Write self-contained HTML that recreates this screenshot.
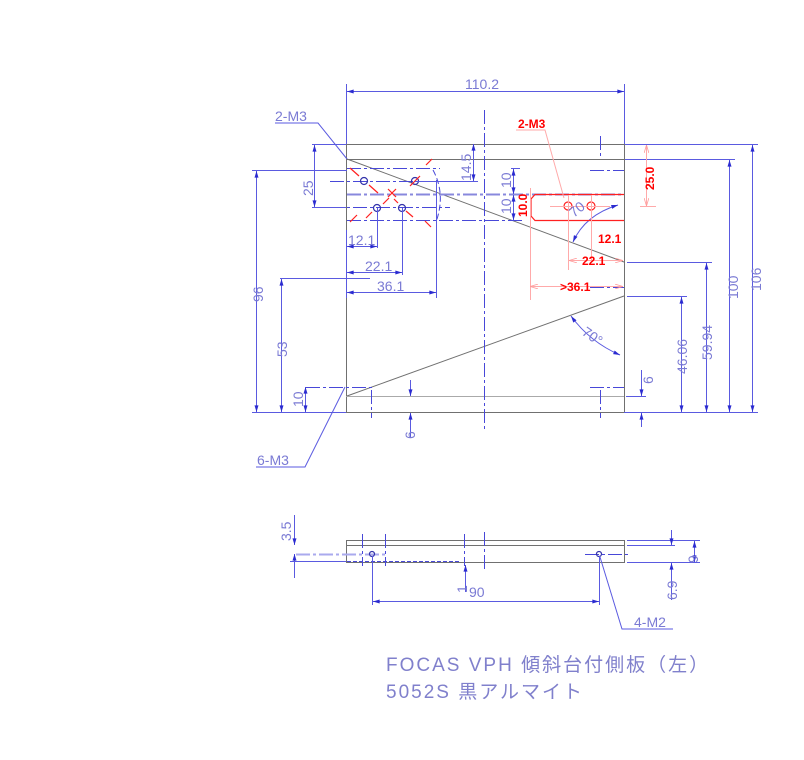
<!DOCTYPE html>
<html><head><meta charset="utf-8"><style>
html,body{margin:0;padding:0;background:#fff;}
svg{display:block}
text{font-family:"Liberation Sans","Noto Sans CJK JP",sans-serif;}
</style></head><body>
<svg width="804" height="760" viewBox="0 0 804 760" xmlns="http://www.w3.org/2000/svg">
<defs>
<marker id="a" viewBox="0 0 10 6" refX="10" refY="3" markerWidth="8" markerHeight="4" orient="auto-start-reverse"><path d="M0,0L10,3L0,6z" fill="#2b2bd0"/></marker>
<marker id="r" viewBox="0 0 10 6" refX="10" refY="3" markerWidth="8" markerHeight="5" orient="auto-start-reverse"><path d="M0,0L10,3L0,6" fill="none" stroke="#f99" stroke-width="1"/></marker>
</defs>
<g fill="none" stroke="#707070" stroke-width="1">
<rect x="346.5" y="144.5" width="278" height="268"/>
<line x1="346" y1="159.5" x2="624" y2="159.5"/>
<line x1="347" y1="159" x2="624" y2="262"/>
<line x1="347" y1="396" x2="624" y2="296"/>
<line x1="346" y1="396.5" x2="624" y2="396.5" stroke="#aaa"/>
<rect x="346.5" y="540.5" width="278" height="22"/>
<line x1="346" y1="545.5" x2="624" y2="545.5"/>
</g>
<g stroke="#4848d8" stroke-width="1" fill="none" stroke-dasharray="14,3,3,3">
<line x1="484.5" y1="110" x2="484.5" y2="432"/>
<line x1="600.5" y1="136" x2="600.5" y2="158"/>
<line x1="371.5" y1="390" x2="371.5" y2="418"/>
<line x1="600.5" y1="390" x2="600.5" y2="418"/>
<line x1="306" y1="387.5" x2="374" y2="387.5"/>
<line x1="590" y1="387.5" x2="624" y2="387.5"/>
<line x1="590" y1="170.5" x2="624" y2="170.5"/>
<line x1="590" y1="287.5" x2="624" y2="287.5"/>
<line x1="347" y1="168.5" x2="440" y2="168.5"/>
<line x1="330" y1="181.5" x2="440" y2="181.5"/>
<line x1="330" y1="207.5" x2="450" y2="207.5"/>
<line x1="347" y1="220.5" x2="524" y2="220.5"/>
<line x1="440" y1="194.5" x2="624" y2="194.5" stroke-width="2" stroke="#8888dd"/>
<line x1="347" y1="194.5" x2="440" y2="194.5" stroke-width="2" stroke="#8888dd"/>
<line x1="296" y1="554.5" x2="385" y2="554.5" stroke="#aaaaee" stroke-width="2"/>
<line x1="585" y1="554.5" x2="630" y2="554.5"/>
<line x1="484.5" y1="532" x2="484.5" y2="572"/>
<line x1="385.5" y1="534" x2="385.5" y2="566"/>
<line x1="464.5" y1="534" x2="464.5" y2="566"/>
<line x1="362.5" y1="534" x2="362.5" y2="566"/>
<line x1="347" y1="561.5" x2="460" y2="561.5" stroke-dasharray="4,2"/>
</g>
<g fill="none" stroke="#3333aa" stroke-width="1.2">
<circle cx="364" cy="181" r="3.5"/><circle cx="415" cy="181" r="3.5"/>
<circle cx="377" cy="208" r="3.5"/><circle cx="402" cy="208" r="3.5"/>
<circle cx="372" cy="554" r="2.5"/><circle cx="599" cy="554" r="2.5"/>
</g>
<g stroke="#ff2020" stroke-width="1.2">
<line x1="350" y1="168" x2="359" y2="176"/><line x1="369" y1="185" x2="378" y2="193"/>
<line x1="410" y1="186" x2="420" y2="176"/><line x1="426" y1="165" x2="432" y2="159"/>
<line x1="389" y1="198" x2="383" y2="204"/><line x1="372" y1="212" x2="366" y2="218"/>
<line x1="406" y1="211" x2="413" y2="217"/><line x1="398" y1="203" x2="394" y2="199"/>
<line x1="350" y1="222" x2="357" y2="215"/><line x1="425" y1="221" x2="431" y2="227"/>
<line x1="388" y1="189" x2="396" y2="197"/><line x1="396" y1="189" x2="388" y2="197"/>
</g>
<path d="M433,170 Q446,194 436,222" fill="none" stroke="#4848d8" stroke-dasharray="6,3"/>
<g stroke="#5a5ae0" stroke-width="1" fill="none">
<line x1="346.5" y1="84" x2="346.5" y2="144"/><line x1="624.5" y1="84" x2="624.5" y2="144"/>
<line x1="347" y1="91.5" x2="624" y2="91.5" marker-start="url(#a)" marker-end="url(#a)"/>
<line x1="625" y1="144.5" x2="758" y2="144.5"/><line x1="625" y1="159.5" x2="735" y2="159.5"/>
<line x1="752.5" y1="145" x2="752.5" y2="412" marker-start="url(#a)" marker-end="url(#a)"/>
<line x1="729.5" y1="160" x2="729.5" y2="412" marker-start="url(#a)" marker-end="url(#a)"/>
<line x1="627" y1="262.5" x2="712" y2="262.5"/>
<line x1="706.5" y1="263" x2="706.5" y2="412" marker-start="url(#a)" marker-end="url(#a)"/>
<line x1="627" y1="296.5" x2="687" y2="296.5"/>
<line x1="681.5" y1="297" x2="681.5" y2="412" marker-start="url(#a)" marker-end="url(#a)"/>
<line x1="624" y1="412.5" x2="758" y2="412.5"/>
<line x1="626" y1="396.5" x2="646" y2="396.5"/>
<line x1="641.5" y1="370" x2="641.5" y2="396" marker-end="url(#a)"/>
<line x1="641.5" y1="427" x2="641.5" y2="413" marker-end="url(#a)"/>
<line x1="252" y1="412.5" x2="346" y2="412.5"/>
<line x1="252" y1="170.5" x2="347" y2="170.5"/>
<line x1="256.5" y1="171" x2="256.5" y2="412" marker-start="url(#a)" marker-end="url(#a)"/>
<line x1="280" y1="278.5" x2="370" y2="278.5"/>
<line x1="281.5" y1="279" x2="281.5" y2="412" marker-start="url(#a)" marker-end="url(#a)"/>
<line x1="305.5" y1="387" x2="305.5" y2="412" marker-start="url(#a)" marker-end="url(#a)"/>
<line x1="312" y1="144.5" x2="346" y2="144.5"/><line x1="312" y1="207.5" x2="346" y2="207.5"/>
<line x1="314.5" y1="145" x2="314.5" y2="207" marker-start="url(#a)" marker-end="url(#a)"/>
<line x1="410.5" y1="380" x2="410.5" y2="396" marker-end="url(#a)"/>
<line x1="410.5" y1="438" x2="410.5" y2="413" marker-end="url(#a)"/>
<line x1="473.5" y1="144" x2="473.5" y2="181" marker-start="url(#a)" marker-end="url(#a)"/>
<line x1="415" y1="181.5" x2="478" y2="181.5"/>
<line x1="513.5" y1="169" x2="513.5" y2="194" marker-start="url(#a)" marker-end="url(#a)"/>
<line x1="513.5" y1="195" x2="513.5" y2="220" marker-start="url(#a)" marker-end="url(#a)"/>
<line x1="511" y1="168.5" x2="520" y2="168.5"/>
<line x1="377.5" y1="208" x2="377.5" y2="248"/><line x1="402.5" y1="208" x2="402.5" y2="275"/>
<line x1="436.5" y1="180" x2="436.5" y2="298"/><line x1="346.5" y1="230" x2="346.5" y2="298"/>
<line x1="347" y1="246.5" x2="377" y2="246.5" marker-start="url(#a)" marker-end="url(#a)"/>
<line x1="347" y1="272.5" x2="402" y2="272.5" marker-start="url(#a)" marker-end="url(#a)"/>
<line x1="347" y1="292.5" x2="436" y2="292.5" marker-start="url(#a)" marker-end="url(#a)"/>
<path d="M571,316 Q590,342 620,355" marker-start="url(#a)" marker-end="url(#a)"/>
<path d="M618,205 Q585,215 573,242" marker-start="url(#a)" marker-end="url(#a)"/>
<polyline points="275,123 318,123 347,159"/>
<polyline points="256,467 305,467 345,387"/>
<line x1="294.5" y1="515" x2="294.5" y2="545" marker-end="url(#a)"/>
<line x1="294.5" y1="578" x2="294.5" y2="554" marker-end="url(#a)"/>
<line x1="290" y1="561.5" x2="346" y2="561.5"/>
<line x1="372.5" y1="556" x2="372.5" y2="605"/><line x1="599.5" y1="556" x2="599.5" y2="605"/>
<line x1="373" y1="601.5" x2="599" y2="601.5" marker-start="url(#a)" marker-end="url(#a)"/>
<line x1="465.5" y1="565" x2="465.5" y2="592" marker-start="url(#a)"/>
<line x1="627" y1="540.5" x2="700" y2="540.5"/><line x1="627" y1="545.5" x2="675" y2="545.5"/><line x1="627" y1="562.5" x2="700" y2="562.5"/>
<line x1="694.5" y1="541" x2="694.5" y2="562" marker-start="url(#a)" marker-end="url(#a)"/>
<line x1="671.5" y1="530" x2="671.5" y2="545" marker-end="url(#a)"/>
<line x1="671.5" y1="600" x2="671.5" y2="563" marker-end="url(#a)"/>
<polyline points="600,557 622,629 673,629"/>
</g>
<g stroke="#ff2020" stroke-width="1.2" fill="none">
<path d="M624,194.5 H535 L531,199 V216 L535,220.5 H624"/>
<circle cx="568" cy="206" r="4"/><circle cx="591" cy="206" r="4"/>
</g>
<g stroke="#ffaaaa" stroke-width="1" fill="none">
<line x1="530.5" y1="188" x2="530.5" y2="300"/>
<line x1="550" y1="206.5" x2="610" y2="206.5"/>
<line x1="568.5" y1="195" x2="568.5" y2="270"/><line x1="591.5" y1="195" x2="591.5" y2="260"/>
<line x1="646.5" y1="145" x2="646.5" y2="206" marker-start="url(#r)" marker-end="url(#r)"/>
<line x1="640" y1="206.5" x2="656" y2="206.5"/>
<line x1="530" y1="286.5" x2="623" y2="286.5" marker-start="url(#r)" marker-end="url(#r)"/>
<line x1="569" y1="260.5" x2="623" y2="260.5" marker-start="url(#r)" marker-end="url(#r)"/>
<polyline points="516,130 545,130 564,198"/>
</g>
<g fill="#7a7ad4" font-size="14">
<text x="465" y="89">110.2</text>
<text x="275" y="121">2-M3</text>
<text x="257" y="465">6-M3</text>
<text x="348" y="245">12.1</text>
<text x="365" y="271">22.1</text>
<text x="377" y="291">36.1</text>
<text x="469" y="597">90</text>
<text x="634" y="627">4-M2</text>
<text transform="translate(313,196) rotate(-90)">25</text>
<text transform="translate(263,302) rotate(-90)">96</text>
<text transform="translate(287,357) rotate(-90)">53</text>
<text transform="translate(303,407) rotate(-90)">10</text>
<text transform="translate(471,181) rotate(-90)">14.5</text>
<text transform="translate(511,188) rotate(-90)">10</text>
<text transform="translate(511,214) rotate(-90)">10</text>
<text transform="translate(415,439) rotate(-90)">6</text>
<text transform="translate(653,384) rotate(-90)">6</text>
<text transform="translate(687,374) rotate(-90)">46.06</text>
<text transform="translate(712,360) rotate(-90)">59.94</text>
<text transform="translate(738,299) rotate(-90)">100</text>
<text transform="translate(761,291) rotate(-90)">106</text>
<text transform="translate(291,541) rotate(-90)">3.5</text>
<text transform="translate(467,593) rotate(-90)">1</text>
<text transform="translate(698,563) rotate(-90)">9</text>
<text transform="translate(677,600) rotate(-90)">6.9</text>
<text transform="translate(581,334) rotate(35)">70°</text>
<text transform="translate(574,218) rotate(-40)">70</text>
</g>
<g fill="#ff0000" font-size="12" font-weight="bold">
<text x="518" y="128">2-M3</text>
<text x="598" y="243">12.1</text>
<text x="582" y="265">22.1</text>
<text x="560" y="291">&gt;36.1</text>
<text transform="translate(654,190) rotate(-90)">25.0</text>
<text transform="translate(527,217) rotate(-90)">10.0</text>
</g>
<g fill="#8080cc" font-size="19" letter-spacing="2">
<text x="386" y="671">FOCAS VPH 傾斜台付側板（左）</text>
<text x="386" y="698">5052S 黒アルマイト</text>
</g>
</svg>
</body></html>
